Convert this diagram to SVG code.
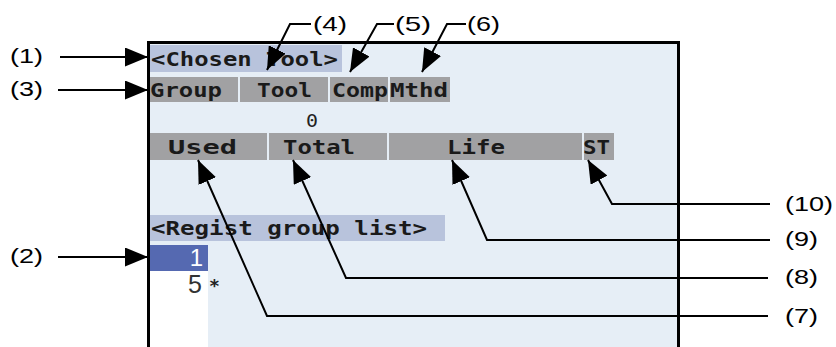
<svg xmlns="http://www.w3.org/2000/svg" width="836" height="347" viewBox="0 0 836 347">
<style>
.lbl{font-family:"Liberation Sans",Arial,sans-serif;font-size:21px;fill:#000}
.mono{font-family:"DejaVu Sans Mono","Liberation Mono",monospace;font-size:19px;font-weight:bold;fill:#1a1a1a}
.bar{fill:#b8c3dc}
.hdr{fill:#a1a1a3}
.ln{fill:none;stroke:#000;stroke-width:2;marker-end:url(#ah)}
</style>
<defs>
<marker id="ah" viewBox="0 0 23 19" refX="23" refY="9.5" markerWidth="23" markerHeight="19" markerUnits="userSpaceOnUse" orient="auto">
<path d="M0,0 L23,9.5 L0,19 Z" fill="#000"/>
</marker>
</defs>
<rect width="836" height="347" fill="#fff"/>
<g id="panel">
<rect x="148.5" y="42.5" width="530" height="320" fill="#e6eef6" stroke="#000" stroke-width="3"/>
<rect x="150" y="271" width="58" height="80" fill="#fff"/>
</g>
<g id="chosen-tool">
<rect class="bar" x="150" y="45" width="192" height="27"/>
<text class="mono" x="151" y="66" textLength="187" lengthAdjust="spacingAndGlyphs">&lt;Chosen Tool&gt;</text>
</g>
<g id="hdr-group"><rect class="hdr" x="150" y="77" width="88" height="25"/><text class="mono" x="150" y="97" textLength="72" lengthAdjust="spacingAndGlyphs">Group</text></g>
<g id="hdr-tool"><rect class="hdr" x="240" y="77" width="88" height="25"/><text class="mono" x="257" y="97" textLength="55" lengthAdjust="spacingAndGlyphs">Tool</text></g>
<g id="hdr-comp"><rect class="hdr" x="330" y="77" width="58" height="25"/><text class="mono" x="332" y="97" textLength="56" lengthAdjust="spacingAndGlyphs">Comp</text></g>
<g id="hdr-mthd"><rect class="hdr" x="390" y="77" width="60" height="25"/><text class="mono" x="390" y="97" textLength="58" lengthAdjust="spacingAndGlyphs">Mthd</text></g>
<g id="value-zero"><text x="306" y="127" style="font-family:'DejaVu Sans Mono',monospace;font-size:17px;font-weight:normal;fill:#222" textLength="12" lengthAdjust="spacingAndGlyphs">0</text></g>
<g id="hdr-used"><rect class="hdr" x="150" y="133" width="117" height="27"/><text class="mono" x="168" y="154" textLength="69" lengthAdjust="spacingAndGlyphs">Used</text></g>
<g id="hdr-total"><rect class="hdr" x="269" y="133" width="118" height="27"/><text class="mono" x="283" y="154" textLength="72" lengthAdjust="spacingAndGlyphs">Total</text></g>
<g id="hdr-life"><rect class="hdr" x="389" y="133" width="193" height="27"/><text class="mono" x="447" y="154" textLength="58" lengthAdjust="spacingAndGlyphs">Life</text></g>
<g id="hdr-st"><rect class="hdr" x="584" y="133" width="30" height="27"/><text class="mono" x="583" y="154" textLength="27" lengthAdjust="spacingAndGlyphs">ST</text></g>
<g id="regist-list">
<rect class="bar" x="150" y="215" width="295" height="26"/>
<text class="mono" x="151" y="235" textLength="276" lengthAdjust="spacingAndGlyphs">&lt;Regist group list&gt;</text>
</g>
<g id="group-1">
<rect x="150" y="245" width="58" height="26" fill="#5569b1"/>
<text x="203" y="266" text-anchor="end" font-family="Liberation Sans,Arial,sans-serif" font-size="24" fill="#fff">1</text>
</g>
<g id="group-5">
<text x="202" y="293" text-anchor="end" font-family="Liberation Sans,Arial,sans-serif" font-size="25" fill="#333">5</text>
<text x="209" y="292" font-family="DejaVu Sans Mono,monospace" font-size="18" font-weight="bold" fill="#222">*</text>
</g>
<g id="callout-labels">
<text class="lbl" x="10" y="63" textLength="33" lengthAdjust="spacingAndGlyphs">(1)</text>
<text class="lbl" x="10" y="96" textLength="33" lengthAdjust="spacingAndGlyphs">(3)</text>
<text class="lbl" x="10" y="263" textLength="33" lengthAdjust="spacingAndGlyphs">(2)</text>
<text class="lbl" x="313" y="31" textLength="34" lengthAdjust="spacingAndGlyphs">(4)</text>
<text class="lbl" x="395" y="31" textLength="36" lengthAdjust="spacingAndGlyphs">(5)</text>
<text class="lbl" x="467" y="31" textLength="33" lengthAdjust="spacingAndGlyphs">(6)</text>
<text class="lbl" x="785" y="211" textLength="48" lengthAdjust="spacingAndGlyphs">(10)</text>
<text class="lbl" x="785" y="246" textLength="33" lengthAdjust="spacingAndGlyphs">(9)</text>
<text class="lbl" x="785" y="284" textLength="33" lengthAdjust="spacingAndGlyphs">(8)</text>
<text class="lbl" x="785" y="323" textLength="33" lengthAdjust="spacingAndGlyphs">(7)</text>
</g>
<g id="connectors">
<polyline class="ln" points="60,57 148,57"/>
<polyline class="ln" points="58,90 148,90"/>
<polyline class="ln" points="58,257 148,257"/>
<polyline class="ln" points="311,24 290,24 267,70"/>
<polyline class="ln" points="394,24 377,24 350,72"/>
<polyline class="ln" points="466,24 447,24 422,72"/>
<polyline class="ln" points="770,204 612,204 588,160"/>
<polyline class="ln" points="770,240 487,240 452,160"/>
<polyline class="ln" points="768,278 346,278 293,160"/>
<polyline class="ln" points="768,316 267,316 198,160"/>
</g>
</svg>
